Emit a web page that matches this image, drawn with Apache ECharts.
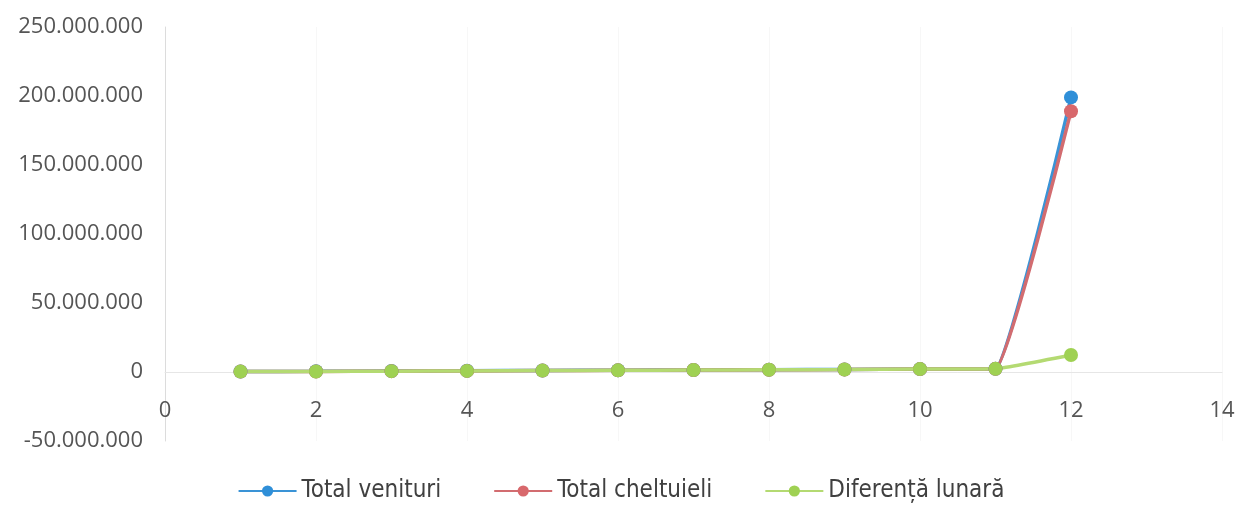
<!DOCTYPE html>
<html>
<head>
<meta charset="utf-8">
<script src="https://cdn.jsdelivr.net/npm/echarts@6/dist/echarts.min.js"></script>
<style>
	html, body { margin: 0; padding: 0; background: #fff; }
	#chart { width: 1242px; height: 506px; }
</style>
</head>
<body>
<div id="chart"></div>
<script>
// luni (1..12)
var luni = [1, 2, 3, 4, 5, 6, 7, 8, 9, 10, 11, 12];
// valori
var venituri = [400000, 500000, 700000, 900000, 1100000, 1300000, 1500000, 1700000, 1900000, 2200000, 2400000, 199000000];
var cheltuieli = [300000, 400000, 600000, 800000, 1000000, 1200000, 1400000, 1600000, 1800000, 2100000, 2300000, 189000000];
var diferenta = [300000, 400000, 600000, 800000, 1000000, 1200000, 1400000, 1600000, 1800000, 2100000, 2300000, 12300000];
var numeSerii = ['Total venituri', 'Total cheltuieli', 'Diferență lunară'];
var culori = ['#2f8fd8', '#d8686c', '#9fd153'];
var culoriLinie = ['#3a93d6', '#d26c70', '#b4da72'];

var puncte = function(arr) {
	var out = [];
	for(var i = 0; i < luni.length; i++) {
		out.push([luni[i], arr[i]]);
	}
	return out;
};

var formatNr = function(v) {
	var s = Math.abs(v).toString().replace(/\B(?=(\d{3})+(?!\d))/g, '.');
	return (v < 0 ? '-' : '') + s;
};

var myChart = echarts.init(document.getElementById('chart'));

var serie = function(idx, arr) {
	return {
		name: numeSerii[idx],
		type: 'line',
		data: puncte(arr),
		smooth: 0.1,
		symbol: 'circle',
		symbolSize: 14,
		lineStyle: { color: culoriLinie[idx], width: 3.5 },
		itemStyle: { color: culori[idx] }
	};
};

var option = {
	animation: false,
	textStyle: { fontFamily: '"Open Sans", sans-serif' },
	grid: { left: 165, right: 20, top: 27, bottom: 65 },
	legend: {
		bottom: -2,
		left: 'center',
		itemWidth: 58,
		itemHeight: 14,
		itemGap: 52,
		textStyle: { fontSize: 24, color: '#404040', fontFamily: '"Liberation Sans Narrow", "DejaVu Sans Condensed", sans-serif' },
		data: numeSerii
	},
	xAxis: {
		type: 'value',
		min: 0,
		max: 14,
		interval: 2,
		offset: -69,
		axisLine: { onZero: false, lineStyle: { color: '#e6e6e6' } },
		axisTick: { show: false },
		axisLabel: { fontSize: 22, color: '#555', margin: 28 },
		splitLine: { show: true, lineStyle: { color: '#f7f7f7' } }
	},
	yAxis: {
		type: 'value',
		min: -50000000,
		max: 250000000,
		interval: 50000000,
		axisLine: { show: true, lineStyle: { color: '#dcdcdc' } },
		axisTick: { show: false },
		axisLabel: { fontSize: 22, color: '#555', margin: 22, formatter: formatNr },
		splitLine: { show: false }
	},
	series: [
		serie(0, venituri),
		serie(1, cheltuieli),
		serie(2, diferenta)
	]
};

myChart.setOption(option);
</script>
</body>
</html>
